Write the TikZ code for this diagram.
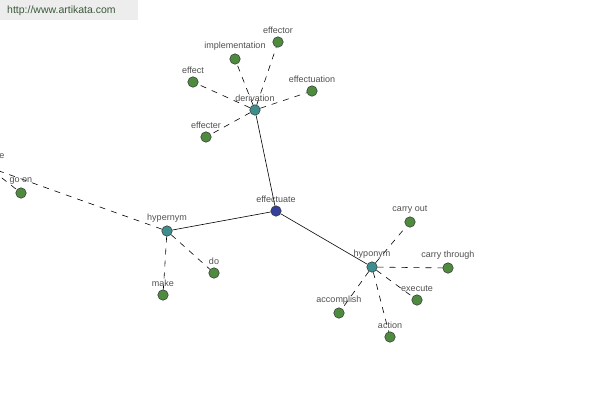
\documentclass[tikz,border=0pt]{standalone}
\usepackage{fontspec}
\setmainfont{Liberation Sans}
\usetikzlibrary{backgrounds}
\definecolor{leafgreen}{HTML}{4E8B3E}
\definecolor{hubteal}{HTML}{3E8E8E}
\definecolor{rootblue}{HTML}{34409A}
\definecolor{lblgray}{HTML}{505050}
\definecolor{hdrbg}{HTML}{EDEDED}
\definecolor{hdrtext}{HTML}{3A5A3A}
\tikzset{
  dot/.style={circle,draw=black!80,line width=0.5pt,minimum size=10.5pt,inner sep=0pt},
  leaf/.style={dot,fill=leafgreen},
  hub/.style={dot,fill=hubteal},
  root/.style={dot,fill=rootblue},
  lbl/.style={text=lblgray,font=\fontsize{9}{10}\selectfont,inner sep=0pt},
  strong/.style={draw=black,line width=0.6pt},
  weak/.style={draw=black,line width=0.6pt,dash pattern=on 6pt off 6pt},
  every label/.style={lbl,label distance=3pt}
}
\begin{document}
\begin{tikzpicture}[x=1pt,y=-1pt]
\useasboundingbox (0,0) rectangle (600,400);
\clip (0,0) rectangle (600,400);
\fill[hdrbg] (0,0) rectangle (138,20);
\node[text=hdrtext,font=\fontsize{10.5}{11}\selectfont,anchor=west,inner sep=0pt] (hdr) at (7,11) {http://www.artikata.com};

\node[root,label=above:effectuate] (effectuate) at (276,211) {};
\node[hub,label=above:derivation] (derivation) at (255,110) {};
\node[hub,label=above:hypernym] (hypernym) at (167,231) {};
\node[hub,label=above:hyponym] (hyponym) at (372,267) {};

\node[leaf,label=above:effector] (effector) at (278,42) {};
\node[leaf,label=above:implementation] (implementation) at (235,59) {};
\node[leaf,label=above:effect] (effect) at (193,82) {};
\node[leaf,label=above:effectuation] (effectuation) at (312,91) {};
\node[leaf,label=above:effecter] (effecter) at (206,137) {};

\node[leaf] (cont) at (-12,167) {};
\node[lbl] (contlbl) at (2,156) {e};
\node[leaf,label=above:go on] (goon) at (21,193) {};
\node[leaf,label=above:make] (make) at (163,295) {};
\node[leaf,label=above:do] (do) at (214,273) {};

\node[leaf,label=above:carry out] (carryout) at (410,222) {};
\node[leaf,label=above:carry through] (carrythrough) at (448,268) {};
\node[leaf,label=above:execute] (execute) at (417,300) {};
\node[leaf,label=above:accomplish] (accomplish) at (339,313) {};
\node[leaf,label=above:action] (action) at (390,337) {};

\begin{scope}[on background layer]
\draw[strong] (effectuate) -- (derivation);
\draw[strong] (effectuate) -- (hypernym);
\draw[strong] (effectuate) -- (hyponym);
\foreach \n in {effector,implementation,effect,effectuation,effecter}
  \draw[weak] (derivation) -- (\n);
\foreach \n in {cont,make,do}
  \draw[weak] (hypernym) -- (\n);
\draw[weak] (cont) -- (goon);
\foreach \n in {carryout,carrythrough,execute,accomplish,action}
  \draw[weak] (hyponym) -- (\n);
\end{scope}
\end{tikzpicture}
\end{document}
